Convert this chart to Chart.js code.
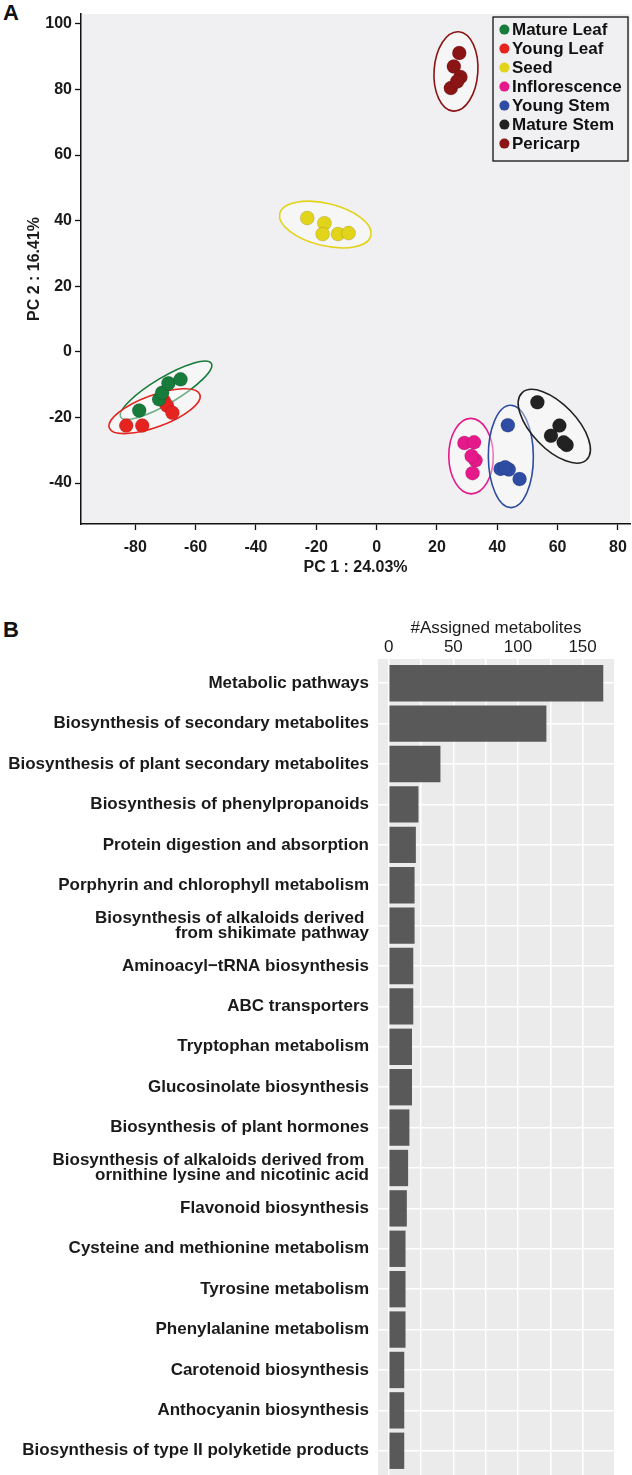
<!DOCTYPE html>
<html>
<head>
<meta charset="utf-8">
<script src="https://cdn.jsdelivr.net/npm/chart.js@4.4.1/dist/chart.umd.min.js"></script>
<style>
body{margin:0;background:#fff;width:632px;height:1475px;overflow:hidden;position:relative;font-family:"Liberation Sans",Arial,sans-serif}
.wrap{position:absolute;left:0;width:632px}
#wa{top:0;height:585px}
#wb{top:600px;height:875px}
.tag{position:absolute;left:3px;font-weight:bold;font-size:22px;line-height:22px;color:#111}
</style>
</head>
<body>
<div class="tag" style="top:2px">A</div>
<div class="tag" style="top:619px">B</div>
<div class="wrap" id="wa"><canvas id="pca"></canvas></div>
<div class="wrap" id="wb"><canvas id="bars"></canvas></div>
<script>
// ---- panel A : PCA scores ----
var groups = ['Mature Leaf', 'Young Leaf', 'Seed', 'Inflorescence', 'Young Stem', 'Mature Stem', 'Pericarp']
var groupColors = ['#167B3B', '#E5231F', '#E2D31B', '#E5198A', '#2F4CA5', '#222222', '#8B1515']

var matureLeafPC1 = [-78.7, -72.1, -71.1, -69.0, -65.0]
var matureLeafPC2 = [-17.9, -14.5, -12.5, -9.6, -8.4]
var youngLeafPC1 = [-83.0, -77.7, -70.5, -69.5, -67.7]
var youngLeafPC2 = [-22.5, -22.5, -15.0, -16.4, -18.6]
var seedPC1 = [-23.0, -17.3, -17.9, -12.8, -9.3]
var seedPC2 = [40.8, 39.2, 35.9, 35.9, 36.2]
var inflorescencePC1 = [29.1, 32.3, 32.8, 31.5, 31.8]
var inflorescencePC2 = [-27.8, -27.6, -33.1, -31.8, -37.0]
var youngStemPC1 = [43.5, 41.1, 43.8, 42.6, 47.4]
var youngStemPC2 = [-22.4, -35.7, -35.9, -35.2, -38.8]
var matureStemPC1 = [53.3, 60.6, 57.8, 63.0, 62.0]
var matureStemPC2 = [-15.4, -22.5, -25.6, -28.4, -27.6]
var pericarpPC1 = [27.4, 25.6, 27.8, 24.6, 26.7]
var pericarpPC2 = [91.1, 87.0, 83.8, 80.4, 82.4]

var pc1Values = [matureLeafPC1, youngLeafPC1, seedPC1, inflorescencePC1, youngStemPC1, matureStemPC1, pericarpPC1]
var pc2Values = [matureLeafPC2, youngLeafPC2, seedPC2, inflorescencePC2, youngStemPC2, matureStemPC2, pericarpPC2]

// confidence ellipses: centre, end of the long half-axis, short/long ratio
var ellCenterX = [-69.8, -73.6, -17.0, 31.3, 44.5, 58.9, 26.3]
var ellCenterY = [-11.7, -18.1, 38.8, -31.8, -31.9, -22.7, 85.5]
var ellEndX = [-54.8, -58.6, -1.9, 31.2, 44.4, 48.2, 27.2]
var ellEndY = [-3.5, -13.0, 35.4, -20.3, -16.3, -12.5, 97.6]
var ellRatio = [0.25, 0.33, 0.45, 0.59, 0.44, 0.48, 0.55]

var pc1Ticks = [-80, -60, -40, -20, 0, 20, 40, 60, 80]
var pc2Ticks = [-40, -20, 0, 20, 40, 60, 80, 100]

// ---- panel B : KEGG pathways ----
var pathways = [
  'Metabolic pathways',
  'Biosynthesis of secondary metabolites',
  'Biosynthesis of plant secondary metabolites',
  'Biosynthesis of phenylpropanoids',
  'Protein digestion and absorption',
  'Porphyrin and chlorophyll metabolism',
  ['Biosynthesis of alkaloids derived ', 'from shikimate pathway'],
  'Aminoacyl\u2212tRNA biosynthesis',
  'ABC transporters',
  'Tryptophan metabolism',
  'Glucosinolate biosynthesis',
  'Biosynthesis of plant hormones',
  ['Biosynthesis of alkaloids derived from ', 'ornithine lysine and nicotinic acid'],
  'Flavonoid biosynthesis',
  'Cysteine and methionine metabolism',
  'Tyrosine metabolism',
  'Phenylalanine metabolism',
  'Carotenoid biosynthesis',
  'Anthocyanin biosynthesis',
  'Biosynthesis of type II polyketide products'
]
var assigned = [166, 122, 40, 23, 21, 20, 20, 19, 19, 18, 18, 16, 15, 14, 13, 13, 13, 12, 12, 12]
var countTicks = [0, 25, 50, 75, 100, 125, 150]

var FONT = '"Liberation Sans", Arial, sans-serif'
Chart.defaults.font.family = FONT
Chart.defaults.animation = false

// fills the plot panel
var panelBg = {
  id: 'panelBg',
  beforeDraw: function (chart, args, opts) {
    var a = chart.chartArea, ctx = chart.ctx
    ctx.save()
    ctx.fillStyle = opts.color
    ctx.fillRect(a.left, a.top, a.right - a.left, a.bottom - a.top)
    ctx.restore()
  }
}

var ellipses = {
  id: 'ellipses',
  beforeDatasetsDraw: function (chart) {
    var ctx = chart.ctx, sx = chart.scales.x, sy = chart.scales.y
    ctx.save()
    for (var i = 0; i < groups.length; i++) {
      var cx = sx.getPixelForValue(ellCenterX[i]), cy = sy.getPixelForValue(ellCenterY[i])
      var ex = sx.getPixelForValue(ellEndX[i]), ey = sy.getPixelForValue(ellEndY[i])
      var a = Math.hypot(ex - cx, ey - cy)
      ctx.beginPath()
      ctx.ellipse(cx, cy, a, a * ellRatio[i], Math.atan2(ey - cy, ex - cx), 0, Math.PI * 2)
      ctx.fillStyle = 'rgba(255,255,255,0.4)'
      ctx.fill()
      ctx.lineWidth = 1.6
      ctx.strokeStyle = groupColors[i]
      ctx.stroke()
    }
    ctx.restore()
  }
}

var boxLegend = {
  id: 'boxLegend',
  afterDraw: function (chart) {
    var ctx = chart.ctx, a = chart.chartArea
    var x0 = a.right - 137, y0 = a.top + 3, w = 135, h = 144
    ctx.save()
    ctx.lineWidth = 1.3
    ctx.strokeStyle = '#111'
    ctx.strokeRect(x0, y0, w, h)
    ctx.font = 'bold 17px ' + FONT
    ctx.textBaseline = 'middle'
    for (var i = 0; i < groups.length; i++) {
      var y = y0 + 12.6 + i * 19
      ctx.beginPath()
      ctx.arc(x0 + 11.4, y, 5, 0, Math.PI * 2)
      ctx.fillStyle = groupColors[i]
      ctx.fill()
      ctx.fillStyle = '#111'
      ctx.fillText(groups[i], x0 + 19, y + 0.5)
    }
    ctx.restore()
  }
}

function noPad(s) {
  s.paddingLeft = 0; s.paddingRight = 0; s.paddingTop = 0; s.paddingBottom = 0
}

var pcaSets = groups.map(function (g, i) {
  return {
    label: g,
    data: pc1Values[i].map(function (v, k) { return { x: v, y: pc2Values[i][k] } }),
    backgroundColor: groupColors[i],
    borderColor: 'rgba(0,0,0,0.15)',
    borderWidth: 0.8,
    pointRadius: 7
  }
})

new Chart(document.getElementById('pca'), {
  type: 'scatter',
  data: { datasets: pcaSets },
  options: {
    responsive: true,
    maintainAspectRatio: false,
    layout: { autoPadding: false, padding: { top: 14, right: 2, left: 0, bottom: 0 } },
    plugins: { legend: { display: false }, tooltip: { enabled: false }, panelBg: { color: '#F0F0F2' } },
    scales: {
      x: {
        type: 'linear', min: -98, max: 84,
        afterBuildTicks: function (s) { s.ticks = pc1Ticks.map(function (v) { return { value: v } }) },
        afterFit: function (s) { s.height = 61; noPad(s) },
        grid: { drawOnChartArea: false, drawTicks: true, tickLength: 6, tickColor: '#111', tickWidth: 1.3 },
        border: { color: '#111', width: 1.5 },
        ticks: { color: '#1a1a1a', font: { size: 16, weight: 'bold' }, padding: 8, maxRotation: 0 },
        title: { display: true, text: 'PC 1 : 24.03%', color: '#1a1a1a', font: { size: 16, weight: 'bold' }, padding: { top: 0, bottom: 8 } }
      },
      y: {
        type: 'linear', min: -52.5, max: 103,
        afterBuildTicks: function (s) { s.ticks = pc2Ticks.map(function (v) { return { value: v } }) },
        afterFit: function (s) { s.width = 81; noPad(s) },
        grid: { drawOnChartArea: false, drawTicks: true, tickLength: 6, tickColor: '#111', tickWidth: 1.3 },
        border: { color: '#111', width: 1.5 },
        ticks: { color: '#1a1a1a', font: { size: 16, weight: 'bold' }, padding: 3 },
        title: { display: true, text: 'PC 2 : 16.41%', color: '#1a1a1a', font: { size: 16, weight: 'bold' }, padding: { top: 25, bottom: 0 } }
      }
    }
  },
  plugins: [panelBg, ellipses, boxLegend]
})

new Chart(document.getElementById('bars'), {
  type: 'bar',
  data: {
    datasets: [{
      data: assigned.map(function (v, i) { return { x: v, y: i } }),
      backgroundColor: '#595959',
      borderWidth: 0,
      barPercentage: 0.9,
      categoryPercentage: 1
    }]
  },
  options: {
    indexAxis: 'y',
    responsive: true,
    maintainAspectRatio: false,
    layout: { padding: { top: 0, right: 18, left: 0, bottom: 0 } },
    plugins: { legend: { display: false }, tooltip: { enabled: false }, panelBg: { color: '#EBEBEB' } },
    scales: {
      x: {
        type: 'linear', position: 'top', min: -8.3, max: 174.3,
        afterBuildTicks: function (s) { s.ticks = countTicks.map(function (v) { return { value: v } }) },
        afterFit: function (s) { s.height = 59; noPad(s) },
        grid: { color: '#fff', lineWidth: 1.5, drawTicks: false },
        border: { display: false },
        ticks: {
          color: '#1a1a1a', font: { size: 17 }, padding: 1, maxRotation: 0,
          callback: function (v) { return v % 50 === 0 ? String(v) : '' }
        },
        title: { display: true, text: '#Assigned metabolites', color: '#1a1a1a', font: { size: 17 }, padding: { top: 18, bottom: 0 } }
      },
      y: {
        type: 'linear', reverse: true, min: -0.6, max: 19.6, offset: false,
        afterBuildTicks: function (s) { s.ticks = pathways.map(function (p, i) { return { value: i } }) },
        afterFit: function (s) { s.width = 378; noPad(s) },
        grid: { color: '#fff', lineWidth: 1.5, drawTicks: false, offset: false },
        border: { display: false },
        ticks: {
          color: '#1a1a1a', font: { size: 17, weight: 'bold', lineHeight: 0.9 }, padding: 9, autoSkip: false,
          callback: function (v) { return pathways[v] }
        }
      }
    }
  },
  plugins: [panelBg]
})
</script>
</body>
</html>
